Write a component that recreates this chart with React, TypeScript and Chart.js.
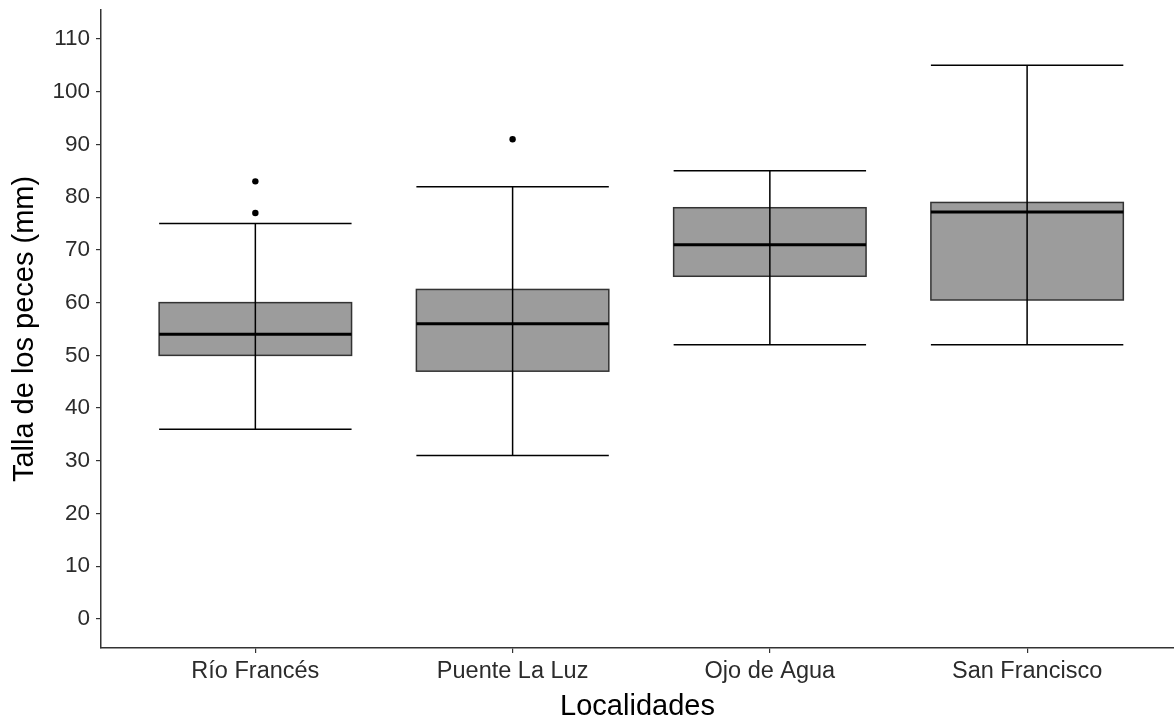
import React, { useEffect, useRef } from 'react';
import { Chart, registerables } from 'chart.js';

Chart.register(...registerables);

// ---------- data ----------
const categories = ['Río Francés', 'Puente La Luz', 'Ojo de Agua', 'San Francisco'];
const whiskerLow = [36, 31, 52, 52];
const q1 = [50, 47, 65, 60.5];
const median = [54, 56, 71, 77.2];
const q3 = [60, 62.5, 78, 79];
const whiskerHigh = [75, 82, 85, 105];
const outlierCategory = [1, 1, 2];
const outlierValue = [77, 83, 91];
const yTicks = [0, 10, 20, 30, 40, 50, 60, 70, 80, 90, 100, 110];

// ---------- styles ----------
const FONT = "'Liberation Sans', Arial, Helvetica, sans-serif";
const BOX_HALF = 0.374;
const BOX_FILL = '#9c9c9c';
const BOX_EDGE = '#333333';
const AXIS_COLOR = '#333333';
const TICK_TEXT = '#2b2b2b';

const boxPlugin = {
  id: 'boxplotDraw',
  beforeDatasetsDraw(chart: any) {
    const { ctx, scales } = chart;
    const x = scales.x;
    const y = scales.y;
    ctx.save();
    categories.forEach((_, i) => {
      const c = i + 1;
      const xl = x.getPixelForValue(c - BOX_HALF);
      const xr = x.getPixelForValue(c + BOX_HALF);
      const xc = x.getPixelForValue(c);
      const yq1 = y.getPixelForValue(q1[i]);
      const yq3 = y.getPixelForValue(q3[i]);
      const ymed = y.getPixelForValue(median[i]);
      const ylo = y.getPixelForValue(whiskerLow[i]);
      const yhi = y.getPixelForValue(whiskerHigh[i]);

      // box
      ctx.fillStyle = BOX_FILL;
      ctx.fillRect(xl, yq3, xr - xl, yq1 - yq3);
      ctx.strokeStyle = BOX_EDGE;
      ctx.lineWidth = 1.5;
      ctx.strokeRect(xl, yq3, xr - xl, yq1 - yq3);

      // median
      ctx.strokeStyle = '#000000';
      ctx.lineWidth = 3;
      ctx.beginPath();
      ctx.moveTo(xl, ymed);
      ctx.lineTo(xr, ymed);
      ctx.stroke();

      // error bar (whiskers + caps)
      ctx.strokeStyle = '#000000';
      ctx.lineWidth = 1.5;
      ctx.beginPath();
      ctx.moveTo(xc, ylo);
      ctx.lineTo(xc, yhi);
      ctx.moveTo(xl, yhi);
      ctx.lineTo(xr, yhi);
      ctx.moveTo(xl, ylo);
      ctx.lineTo(xr, ylo);
      ctx.stroke();
    });
    ctx.restore();
  },
};

export default function App() {
  const canvasRef = useRef<HTMLCanvasElement | null>(null);

  useEffect(() => {
    if (!canvasRef.current) return;
    Chart.defaults.font.family = FONT;

    const chart = new Chart(canvasRef.current, {
      type: 'scatter',
      data: {
        datasets: [
          {
            label: 'outliers',
            data: outlierValue.map((v, k) => ({ x: outlierCategory[k], y: v })),
            backgroundColor: '#000000',
            borderColor: '#000000',
            pointRadius: 3.2,
            pointBorderWidth: 0,
          },
        ],
      },
      options: {
        animation: false,
        responsive: false,
        maintainAspectRatio: false,
        layout: { autoPadding: false, padding: { top: 10, right: 0, left: 0, bottom: 0 } },
        plugins: {
          legend: { display: false },
          tooltip: { enabled: false },
          title: { display: false },
        },
        scales: {
          x: {
            type: 'linear',
            min: 0.4,
            max: 4.571,
            afterBuildTicks: (s: any) => {
              s.ticks = categories.map((_, i) => ({ value: i + 1 }));
            },
            afterFit: (s: any) => {
              s.height = 73;
              s.paddingLeft = 0;
              s.paddingRight = 0;
              s.paddingTop = 0;
              s.paddingBottom = 0;
            },
            ticks: {
              callback: (v: any) => categories[Math.round(Number(v)) - 1] ?? '',
              font: { family: FONT, size: 23.5 },
              color: TICK_TEXT,
              padding: 4,
              autoSkip: false,
              maxRotation: 0,
              minRotation: 0,
            },
            grid: {
              display: true,
              drawOnChartArea: false,
              drawTicks: true,
              tickLength: 5,
              color: AXIS_COLOR,
              lineWidth: 1.2,
            },
            border: { display: true, color: AXIS_COLOR, width: 1.5 },
            title: {
              display: true,
              text: 'Localidades',
              font: { family: FONT, size: 29, lineHeight: 1 },
              color: '#000000',
              padding: 0,
            },
          },
          y: {
            type: 'linear',
            min: -5.5,
            max: 115.5,
            afterBuildTicks: (s: any) => {
              s.ticks = yTicks.map((v) => ({ value: v }));
            },
            afterFit: (s: any) => {
              s.width = 101;
              s.paddingLeft = 0;
              s.paddingRight = 0;
              s.paddingTop = 0;
              s.paddingBottom = 0;
            },
            ticks: {
              font: { family: FONT, size: 22.5 },
              color: TICK_TEXT,
              padding: 6,
            },
            grid: {
              display: true,
              drawOnChartArea: false,
              drawTicks: true,
              tickLength: 5,
              color: AXIS_COLOR,
              lineWidth: 1.2,
            },
            border: { display: true, color: AXIS_COLOR, width: 1.5 },
            title: {
              display: true,
              text: 'Talla de los peces (mm)',
              font: { family: FONT, size: 29, lineHeight: 1 },
              color: '#000000',
              padding: { top: 10, bottom: 0 },
            },
          },
        },
      },
      plugins: [boxPlugin],
    });

    return () => chart.destroy();
  }, []);

  return (
    <div style={{ position: 'fixed', left: 0, top: 0, width: 1174, height: 721, background: '#ffffff' }}>
      <canvas ref={canvasRef} width={1174} height={721} style={{ display: 'block' }} />
    </div>
  );
}
